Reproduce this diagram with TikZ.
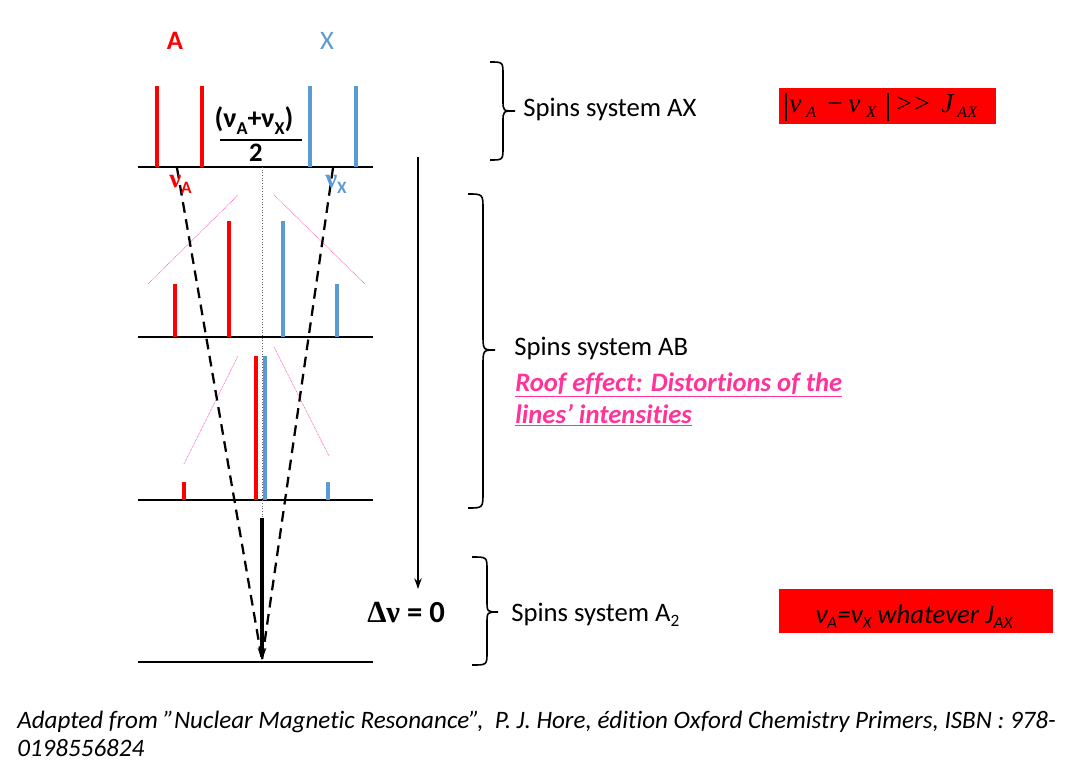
\documentclass[tikz,border=0pt]{standalone}
\usepackage{fontspec}
\setmainfont[Ligatures=NoCommon]{Carlito}
\newfontfamily\timesf{Liberation Serif}
\usetikzlibrary{arrows.meta}
\definecolor{specred}{RGB}{255,0,0}
\definecolor{specblue}{RGB}{91,155,213}
\definecolor{roofpink}{RGB}{255,51,153}
\definecolor{rooflinepink}{RGB}{255,110,200}
\newcommand{\lowsub}[1]{\raisebox{-0.22em}{\scalebox{0.65}{#1}}}
\begin{document}
\begin{tikzpicture}[x=0.75pt,y=-0.75pt,
  baseln/.style={line width=1.5pt,black},
  redln/.style={line width=2.5pt,specred},
  blueln/.style={line width=2.5pt,specblue},
  roofln/.style={line width=0.6pt,rooflinepink,dash pattern=on 0.6pt off 0.6pt},
  dashln/.style={line width=1.7pt,black,dash pattern=on 8pt off 5pt},
  bracestyle/.style={line width=1.2pt,black},
  lbl/.style={inner sep=0pt,anchor=base west},
  lblc/.style={inner sep=0pt,anchor=base},
  formula/.style={inner sep=0pt,anchor=base west,font=\fontsize{20.5}{24}\selectfont\timesf\itshape},
  formsub/.style={inner sep=0pt,anchor=base west,font=\fontsize{12}{14}\selectfont\timesf\itshape}]
\useasboundingbox (0,0) rectangle (1085,784);

% baselines
\foreach \yy in {167,337,500,662}{
  \draw[baseln] (138,\yy) -- (373,\yy);
}
% dotted center line
\draw[line width=0.6pt,gray!80!black,dash pattern=on 0.8pt off 1.2pt] (262,167) -- (262,518);

% spectrum AX
\draw[redln] (157,86) -- (157,167);
\draw[redln] (202,86) -- (202,167);
\draw[blueln] (310,86) -- (310,167);
\draw[blueln] (356,86) -- (356,167);

% spectrum AB (1)
\draw[redln] (175,284) -- (175,337);
\draw[redln] (229,221) -- (229,337);
\draw[blueln] (283,221) -- (283,337);
\draw[blueln] (337,284) -- (337,337);
\draw[roofln] (148,284) -- (238,195);
\draw[roofln] (274,195) -- (365,284);

% spectrum AB (2)
\draw[redln] (184,482) -- (184,500);
\draw[redln] (256,356) -- (256,500);
\draw[blueln] (265,356) -- (265,500);
\draw[blueln] (328,482) -- (328,500);
\draw[roofln] (184,464) -- (238,356);
\draw[roofln] (274,347) -- (329,456);

% converging dashed lines
\coordinate (conv) at (262,660);
\coordinate (dl) at (177,168);
\coordinate (dr) at (333,168);
\draw[dashln] (dl) -- (conv);
\draw[dashln] (dr) -- (conv);

% thick arrow
\coordinate (tstart) at (262,518);
\draw[line width=2.8pt,-{Stealth[length=9pt,width=6.5pt]}] (tstart) -- (conv);

% long arrow
\coordinate (lstart) at (418,157);
\coordinate (lend) at (418,589);
\draw[line width=1.1pt,-{Stealth[length=8pt,width=5.5pt]}] (lstart) -- (lend);

% labels A, X
\node[lblc,text=specred,font=\fontsize{20}{24}\selectfont\bfseries] (labA) at (175,50) {A};
\node[lblc,text=specblue,font=\fontsize{20}{24}\selectfont] (labX) at (327,50) {X};

% fraction
\node[lblc,font=\fontsize{21}{25}\selectfont\bfseries] (fnum) at (254,128) {(ν\lowsub{A}+ν\lowsub{X})};
\draw[line width=0.8pt] (220,140) -- (302,140);
\node[lblc,font=\fontsize{20}{24}\selectfont\bfseries] (fden) at (256,162) {2};

% nu labels
\node[lbl,text=specred,font=\fontsize{20}{24}\selectfont\bfseries] (nuA) at (169,188) {{\timesf ν}\lowsub{A}};
\node[lbl,text=specblue,font=\fontsize{20}{24}\selectfont\bfseries] (nuX) at (325,188) {{\timesf ν}\lowsub{X}};

% delta nu = 0
\node[lbl,font=\fontsize{23}{27}\selectfont\bfseries] (dnu) at (367,622) {{\timesf Δν} = 0};

% braces
\draw[bracestyle] (490,62) .. controls (503,62) .. (503,75) -- (503,100) .. controls (503,111) .. (515,111)
  .. controls (503,111) .. (503,122) -- (503,147) .. controls (503,160) .. (490,160);
\draw[bracestyle] (468,194) .. controls (483,194) .. (483,210) -- (483,334) .. controls (483,350) .. (495,350)
  .. controls (483,350) .. (483,366) -- (483,492) .. controls (483,508) .. (468,508);
\draw[bracestyle] (472,557) .. controls (487,557) .. (487,570) -- (487,600) .. controls (487,612) .. (498,612)
  .. controls (487,612) .. (487,624) -- (487,652) .. controls (487,665) .. (472,665);

% system texts
\node[lbl,font=\fontsize{20}{24}\selectfont] (tAX) at (523,117) {Spins system AX};
\node[lbl,font=\fontsize{20}{24}\selectfont] (tAB) at (514,355) {Spins system AB};
\node[lbl,font=\fontsize{20}{24}\selectfont] (tA2) at (511,621) {Spins system A\lowsub{2}};
\node[lbl,text=roofpink,font=\fontsize{20}{24}\selectfont\bfseries\itshape] (roof1) at (515,391) {\underline{Roof effect: Distortions of the}};
\node[lbl,text=roofpink,font=\fontsize{20}{24}\selectfont\bfseries\itshape] (roof2) at (515,423) {\underline{lines\char"27{} intensities}};

% red box 1
\fill[specred] (779,88) rectangle (996,124);
\draw[line width=0.8pt] (786,93) -- (786,121);
\node[formula] (c1nuA) at (789,113) {ν};
\node[formsub] (c1A) at (806,118) {A};
\node[formula] (c1min) at (827,113) {\textup{−}};
\node[formula] (c1nuX) at (848,113) {ν};
\node[formsub] (c1X) at (866,118) {X};
\draw[line width=0.8pt] (888,93) -- (888,121);
\node[formula] (c1gt) at (896,113) {\textup{>\kern2pt>}};
\node[formula] (c1J) at (941,113) {J};
\node[formsub] (c1AX) at (957,118) {A\kern0.5pt X};

% red box 2
\fill[specred] (779,589) rectangle (1053,633);
\node[lbl,font=\fontsize{20}{24}\selectfont\itshape] (cond2) at (815,623) {ν\lowsub{A}=ν\lowsub{X} whatever J\lowsub{AX}};

% footer
\node[lbl,font=\fontsize{18.8}{22}\selectfont\itshape] (foot1) at (17,728) {Adapted from "Nuclear Magnetic Resonance”, \ P. J. Hore, édition Oxford Chemistry Primers, ISBN : 978-};
\node[lbl,font=\fontsize{18.8}{22}\selectfont\itshape] (foot2) at (17,756) {0198556824};
\end{tikzpicture}
\end{document}
